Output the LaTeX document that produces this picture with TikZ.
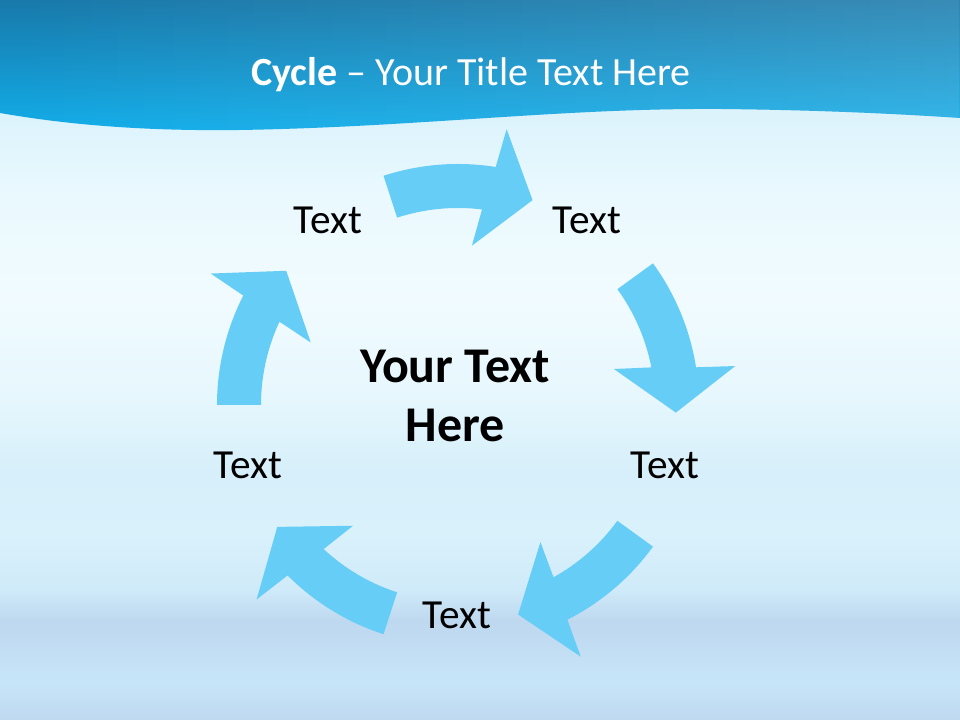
\documentclass[tikz,border=0pt]{standalone}
\usepackage{fontspec}
\setmainfont{Carlito}
\usetikzlibrary{fadings}

\definecolor{arrowblue}{HTML}{66CDF6}
\definecolor{headtop}{HTML}{1879AA}
\definecolor{headbot}{HTML}{12ADE9}
\definecolor{seaA}{HTML}{BFD9F0}
\definecolor{seaB}{HTML}{C7E5F8}
\definecolor{seaC}{HTML}{BED8EF}
\definecolor{seaD}{HTML}{CFEAF9}
\definecolor{seaE}{HTML}{D9F1FB}
\definecolor{seaF}{HTML}{D6EFFA}
\definecolor{seaG}{HTML}{E6F7FD}
\definecolor{seaH}{HTML}{F1FBFF}
\definecolor{seaI}{HTML}{EAF9FE}
\definecolor{seaJ}{HTML}{DAF2FC}
\pgfdeclareverticalshading{seasky}{100bp}{color(0bp)=(seaA); color(25bp)=(seaA);
  color(28bp)=(seaB); color(33bp)=(seaC); color(35.5bp)=(seaD); color(40bp)=(seaE);
  color(45bp)=(seaF); color(51bp)=(seaG); color(59bp)=(seaH); color(67bp)=(seaI);
  color(75bp)=(seaJ); color(100bp)=(seaJ)}
\tikzfading[name=softband, top color=transparent!100, middle color=transparent!0,
  bottom color=transparent!100]

\begin{document}
\begin{tikzpicture}[x=0.75pt, y=0.75pt,
  every node/.style={font=\fontsize{31}{37}\selectfont, text=black},
  cyclearrow/.style={fill=arrowblue},
  streak/.style={fill=white, path fading=softband}]

  \useasboundingbox (0,0) rectangle (960,720);

  % sky and water
  \shade[shading=seasky] (0,0) rectangle (960,620);
  \foreach \yy/\op in {360/0.5, 335/0.4, 300/0.45, 250/0.5, 228/0.35, 180/0.4, 150/0.3}
    \fill[streak, opacity=\op] (0,\yy) rectangle (960,\yy+14);

  % header band
  \shade[top color=headtop, bottom color=headbot]
    (0,607) .. controls (80,593) and (160,589) .. (240,590)
    .. controls (420,593) and (560,612) .. (720,611)
    .. controls (820,610) and (900,606) .. (960,602) -- (960,720) -- (0,720) -- cycle;
  \fill[white, opacity=0.14, path fading=west]
    (0,607) .. controls (80,593) and (160,589) .. (240,590)
    .. controls (420,593) and (560,612) .. (720,611)
    .. controls (820,610) and (900,606) .. (960,602) -- (960,720) -- (0,720) -- cycle;

  \node[text=white, font=\fontsize{30}{36}\selectfont] (title) at (471,645)
    {\textbf{Cycle} -- Your Title Text Here};

  % five arrows round the centre
  \foreach \m in {90,18,-54,-126,-198}
    \fill[cyclearrow, shift={(458,315)}]
      (\m+18:241) arc[start angle=\m+18, end angle=\m-9, radius=241]
      -- (\m-10:280) -- (\m-20:218) -- (\m-5:160) -- (\m-7:197)
      arc[start angle=\m-7, end angle=\m+18, radius=197] -- cycle;

  \node (t1) at (328,500) {Text};
  \node (t2) at (587,500) {Text};
  \node (t3) at (665,255) {Text};
  \node (t4) at (457,105) {Text};
  \node (t5) at (248,255) {Text};

  \node[align=center, font=\bfseries\fontsize{37.5}{44}\selectfont] (core) at (455,324)
    {Your Text\\Here};
\end{tikzpicture}
\end{document}
